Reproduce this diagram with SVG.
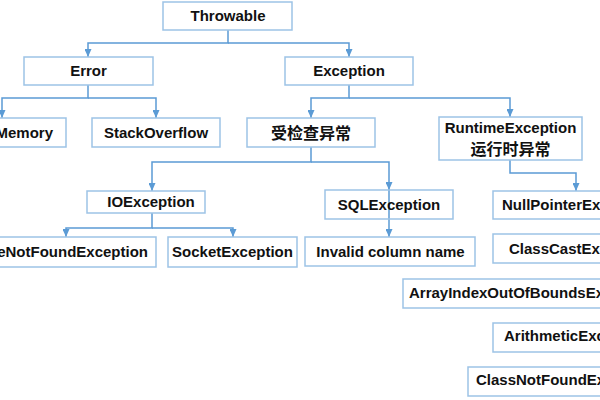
<svg xmlns="http://www.w3.org/2000/svg" width="600" height="400" viewBox="0 0 600 400">
<defs>
<marker id="arr" viewBox="0 0 8 7" refX="8" refY="3.5" markerWidth="8" markerHeight="7" markerUnits="userSpaceOnUse" orient="auto">
<path d="M0,0 L8,3.5 L0,7 z" fill="#5b9bd5"/>
</marker>
<style>
.box{fill:none;stroke:#9dc3e6;stroke-width:1.5}
.t{font-family:"Liberation Sans","Noto Sans CJK SC",sans-serif;font-weight:bold;font-size:15px;fill:#111}
.c{text-anchor:middle}
.cn{font-size:16px}
.conn path{fill:none;stroke:#5b9bd5;stroke-width:1.5;marker-end:url(#arr)}
</style>
</defs>
<rect width="600" height="400" fill="#fff"/>
<g class="conn">
<path d="M228,30 V43 H88 V57"/>
<path d="M228,43 H349 V57"/>
<path d="M88,85 V98 H2 V118"/>
<path d="M88,98 H156 V118"/>
<path d="M349,85 V98 H311 V118"/>
<path d="M349,98 H510 V117"/>
<path d="M311,147 V162 H152 V191"/>
<path d="M311,162 H389 V190"/>
<path d="M389,190 V237"/>
<path d="M510,160 V173 H576 V191"/>
<path d="M152,213 V228 H66 V237"/>
<path d="M152,228 H233 V237"/>
</g>
<g id="throwable"><rect class="box" x="163" y="2" width="129" height="28"/><text class="t c" x="228" y="21">Throwable</text></g>
<g id="error"><rect class="box" x="24" y="57" width="129" height="28"/><text class="t c" x="88.5" y="76">Error</text></g>
<g id="exception"><rect class="box" x="285" y="57" width="128" height="28"/><text class="t c" x="349" y="76">Exception</text></g>
<g id="outofmemory"><rect class="box" x="-62" y="118" width="128" height="29"/><text class="t" x="53" y="138" text-anchor="end">OutOfMemory</text></g>
<g id="stackoverflow"><rect class="box" x="92" y="118" width="128" height="29"/><text class="t c" x="156" y="138">StackOverflow</text></g>
<g id="checked"><rect class="box" x="247" y="118" width="128" height="29"/><text class="t c cn" x="311" y="139">受检查异常</text></g>
<g id="runtime"><rect class="box" x="439" y="117" width="143" height="43"/><text class="t c" x="510.5" y="133">RuntimeException</text><text class="t c cn" x="510.5" y="155">运行时异常</text></g>
<g id="ioexception"><rect class="box" x="87" y="191" width="118" height="22"/><text class="t c" x="151" y="207">IOException</text></g>
<g id="sqlexception"><rect class="box" x="325" y="190" width="128" height="29"/><text class="t c" x="389" y="210">SQLException</text></g>
<g id="filenotfound"><rect class="box" x="-40" y="237" width="196" height="30"/><text class="t" x="148" y="257" text-anchor="end">FileNotFoundException</text></g>
<g id="socket"><rect class="box" x="168" y="237" width="129" height="30"/><text class="t c" x="232.5" y="257">SocketException</text></g>
<g id="invalid"><rect class="box" x="305" y="237" width="170" height="29"/><text class="t c" x="390.5" y="257">Invalid column name</text></g>
<g id="nullpointer"><rect class="box" x="493" y="191" width="160" height="28"/><text class="t" x="502" y="210">NullPointerException</text></g>
<g id="classcast"><rect class="box" x="493" y="234" width="160" height="29"/><text class="t" x="509" y="254">ClassCastException</text></g>
<g id="arrayindex"><rect class="box" x="403" y="279" width="260" height="29"/><text class="t" x="409" y="298">ArrayIndexOutOfBoundsException</text></g>
<g id="arithmetic"><rect class="box" x="493" y="323" width="160" height="29"/><text class="t" x="504" y="341">ArithmeticException</text></g>
<g id="classnotfound"><rect class="box" x="468" y="367" width="200" height="29"/><text class="t" x="476" y="385">ClassNotFoundException</text></g>
</svg>
